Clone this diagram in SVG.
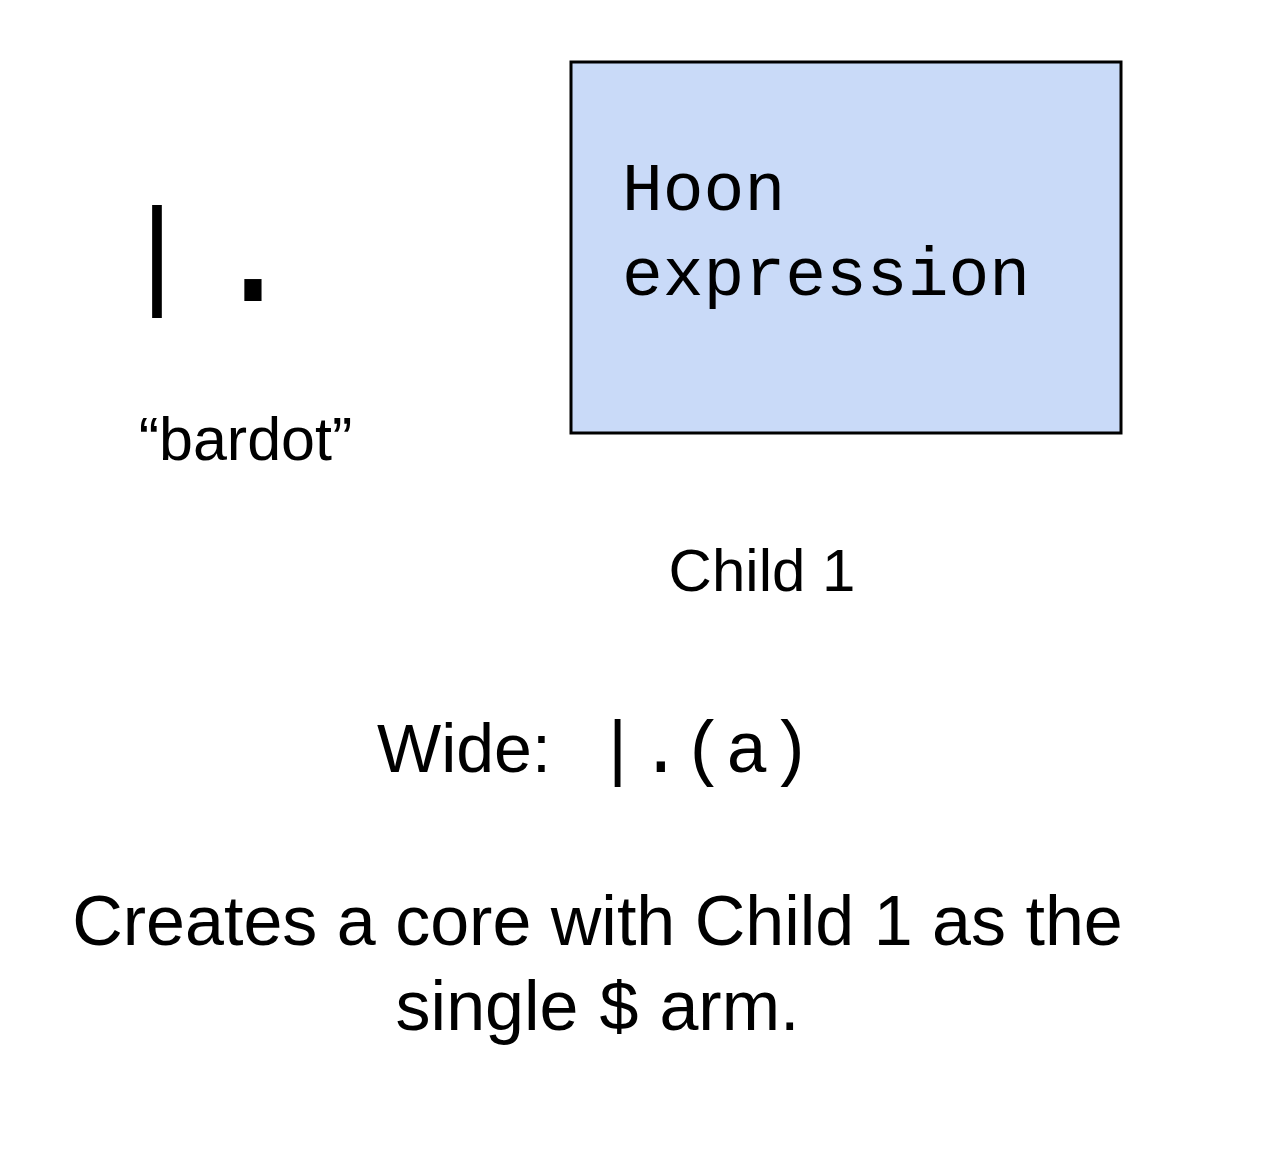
<svg xmlns="http://www.w3.org/2000/svg" width="1272" height="1164" viewBox="0 0 1272 1164">
<style>
.sans{font-family:"Liberation Sans",Arial,sans-serif;fill:#000}
.mono{font-family:"Liberation Mono","Courier New",monospace;fill:#000}
</style>
<rect width="1272" height="1164" fill="#fff"/>
<g id="symbol">
<text class="mono" x="121" y="293" font-size="120" letter-spacing="21">|<tspan font-size="150" dx="-6" dy="8">.</tspan></text>
<text class="sans" x="245.5" y="460" font-size="61" text-anchor="middle">“bardot”</text>
</g>
<g id="child1">
<rect x="571" y="62" width="550" height="371" fill="#c9daf8" stroke="#000" stroke-width="3"/>
<text class="mono" x="622" y="210" font-size="68">Hoon</text>
<text class="mono" x="622" y="295" font-size="68">expression</text>
<text class="sans" x="762" y="591" font-size="60" text-anchor="middle">Child 1</text>
</g>
<g id="connectors"/>
<g id="wide">
<text class="sans" x="377" y="772" font-size="68">Wide:</text>
<text class="mono" x="596" y="772" font-size="72">|.(a)</text>
</g>
<g id="description">
<text class="sans" x="597.5" y="945" font-size="70" text-anchor="middle">Creates a core with Child 1 as the</text>
<text class="sans" x="597.5" y="1030" font-size="70" text-anchor="middle">single <tspan class="mono">$</tspan> arm.</text>
</g>
</svg>
